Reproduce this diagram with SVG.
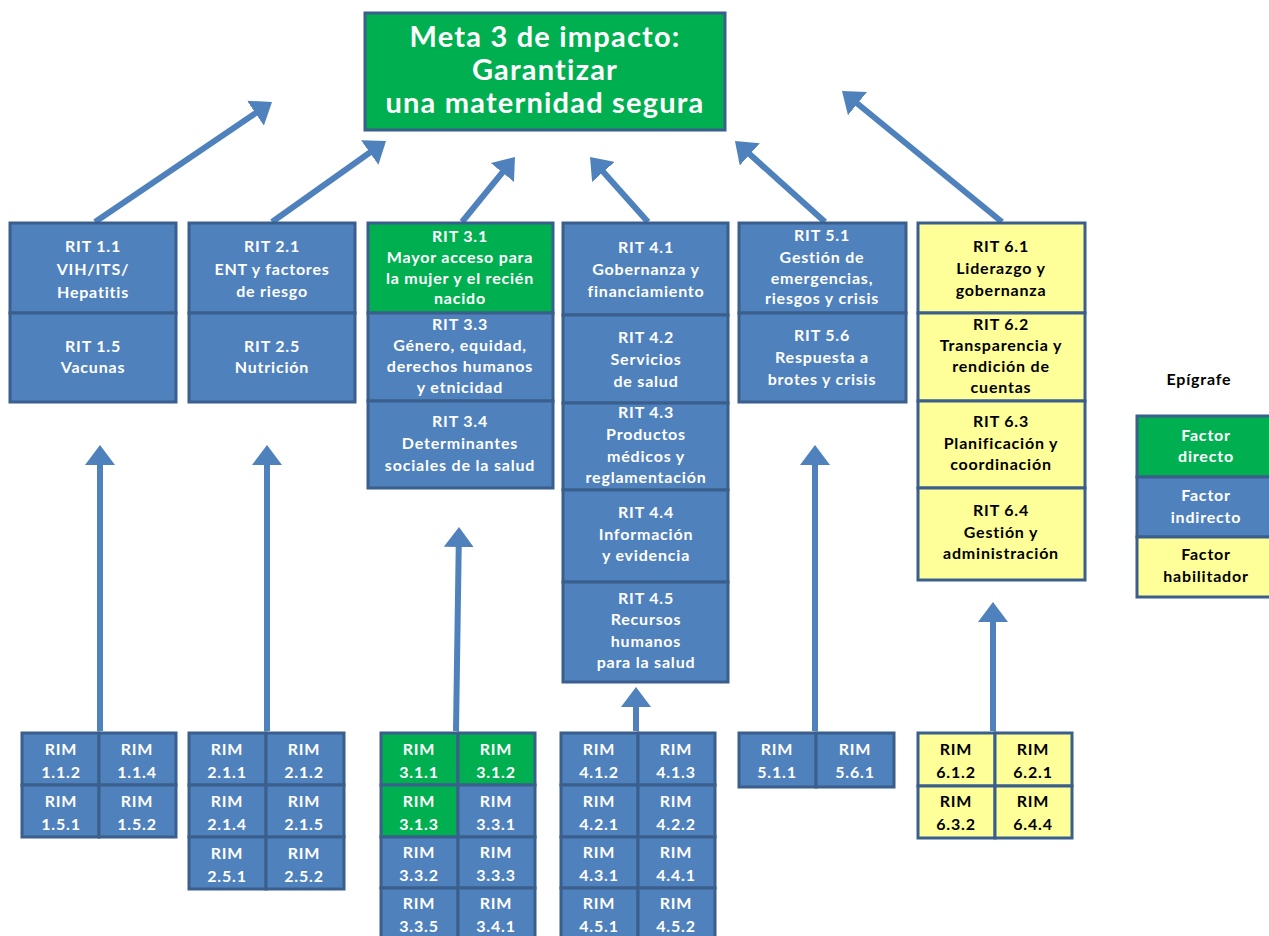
<svg xmlns="http://www.w3.org/2000/svg" width="1269" height="936" viewBox="0 0 1269 936">
<style>
rect{stroke:#3A5F8C;stroke-width:3}
.b{fill:#4F81BD}.g{fill:#00B050}.y{fill:#FFFF99}
text{font-family:Lato,"Liberation Sans",sans-serif;font-weight:bold;font-size:16px;letter-spacing:0.8px;text-anchor:middle;fill:#fff}
.k{fill:#000}
.t{font-size:29px;letter-spacing:1.2px}
.c{stroke:#4F81BD;stroke-width:6;fill:none}
</style>
<defs>
<marker id="ah" viewBox="0 0 20 30" markerWidth="20" markerHeight="30" markerUnits="userSpaceOnUse" refX="5" refY="15" orient="auto">
<path d="M0,0 L20,15 L0,30 z" fill="#4F81BD"/>
</marker>
</defs>
<g id="connectors">
<line class="c" x1="95" y1="222" x2="259.6" y2="110.4" marker-end="url(#ah)"/>
<line class="c" x1="272" y1="222" x2="373.8" y2="149.7" marker-end="url(#ah)"/>
<line class="c" x1="462" y1="222" x2="505.5" y2="168.6" marker-end="url(#ah)"/>
<line class="c" x1="648" y1="222" x2="600" y2="168.2" marker-end="url(#ah)"/>
<line class="c" x1="825" y1="222" x2="746.1" y2="151" marker-end="url(#ah)"/>
<line class="c" x1="1002" y1="222" x2="853.6" y2="100.5" marker-end="url(#ah)"/>
<line class="c" x1="100" y1="731" x2="100" y2="460" marker-end="url(#ah)"/>
<line class="c" x1="267" y1="731" x2="267" y2="460" marker-end="url(#ah)"/>
<line class="c" x1="456" y1="731" x2="458.8" y2="542" marker-end="url(#ah)"/>
<line class="c" x1="636" y1="731" x2="636" y2="702" marker-end="url(#ah)"/>
<line class="c" x1="815" y1="731" x2="815" y2="460" marker-end="url(#ah)"/>
<line class="c" x1="993" y1="731" x2="993" y2="617" marker-end="url(#ah)"/>
</g>
<g id="meta">
<rect class="g" x="365" y="13" width="360" height="117"/>
<text class="t" x="545" y="47">Meta 3 de impacto:</text>
<text class="t" x="545" y="80">Garantizar</text>
<text class="t" x="545" y="113">una maternidad segura</text>
</g>
<g id="rit1">
<rect class="b" x="10" y="223" width="166" height="90"/>
<rect class="b" x="10" y="313" width="166" height="89"/>
<text x="93" y="252">RIT 1.1</text><text x="93" y="275">VIH/ITS/</text><text x="93" y="298">Hepatitis</text>
<text x="93" y="352">RIT 1.5</text><text x="93" y="373">Vacunas</text>
</g>
<g id="rit2">
<rect class="b" x="189" y="223" width="166" height="90"/>
<rect class="b" x="189" y="313" width="166" height="89"/>
<text x="272" y="252">RIT 2.1</text><text x="272" y="275">ENT y factores</text><text x="272" y="297">de riesgo</text>
<text x="272" y="352">RIT 2.5</text><text x="272" y="373">Nutrición</text>
</g>
<g id="rit3">
<rect class="g" x="368" y="223" width="185" height="90"/>
<rect class="b" x="368" y="313" width="185" height="88"/>
<rect class="b" x="368" y="401" width="185" height="87"/>
<text x="460" y="242">RIT 3.1</text><text x="460" y="263">Mayor acceso para</text><text x="460" y="284">la mujer y el recién</text><text x="460" y="304">nacido</text>
<text x="460" y="330">RIT 3.3</text><text x="460" y="351">Género, equidad,</text><text x="460" y="372">derechos humanos</text><text x="460" y="393">y etnicidad</text>
<text x="460" y="427">RIT 3.4</text><text x="460" y="449">Determinantes</text><text x="460" y="471">sociales de la salud</text>
</g>
<g id="rit4">
<rect class="b" x="563" y="223" width="165" height="92"/>
<rect class="b" x="563" y="315" width="165" height="88"/>
<rect class="b" x="563" y="403" width="165" height="87"/>
<rect class="b" x="563" y="490" width="165" height="92"/>
<rect class="b" x="563" y="582" width="165" height="100"/>
<text x="646" y="253">RIT 4.1</text><text x="646" y="275">Gobernanza y</text><text x="646" y="297">financiamiento</text>
<text x="646" y="343">RIT 4.2</text><text x="646" y="365">Servicios</text><text x="646" y="387">de salud</text>
<text x="646" y="418">RIT 4.3</text><text x="646" y="440">Productos</text><text x="646" y="462">médicos y</text><text x="646" y="483">reglamentación</text>
<text x="646" y="518">RIT 4.4</text><text x="646" y="540">Información</text><text x="646" y="561">y evidencia</text>
<text x="646" y="604">RIT 4.5</text><text x="646" y="625">Recursos</text><text x="646" y="647">humanos</text><text x="646" y="668">para la salud</text>
</g>
<g id="rit5">
<rect class="b" x="739" y="223" width="167" height="90"/>
<rect class="b" x="739" y="313" width="167" height="89"/>
<text x="822" y="241">RIT 5.1</text><text x="822" y="263">Gestión de</text><text x="822" y="284">emergencias,</text><text x="822" y="304">riesgos y crisis</text>
<text x="822" y="341">RIT 5.6</text><text x="822" y="363">Respuesta a</text><text x="822" y="385">brotes y crisis</text>
</g>
<g id="rit6">
<rect class="y" x="918" y="223" width="167" height="90"/>
<rect class="y" x="918" y="313" width="167" height="88"/>
<rect class="y" x="918" y="401" width="167" height="87"/>
<rect class="y" x="918" y="488" width="167" height="92"/>
<text class="k" x="1001" y="252">RIT 6.1</text><text class="k" x="1001" y="274">Liderazgo y</text><text class="k" x="1001" y="296">gobernanza</text>
<text class="k" x="1001" y="330">RIT 6.2</text><text class="k" x="1001" y="351">Transparencia y</text><text class="k" x="1001" y="372">rendición de</text><text class="k" x="1001" y="393">cuentas</text>
<text class="k" x="1001" y="427">RIT 6.3</text><text class="k" x="1001" y="449">Planificación y</text><text class="k" x="1001" y="470">coordinación</text>
<text class="k" x="1001" y="516">RIT 6.4</text><text class="k" x="1001" y="538">Gestión y</text><text class="k" x="1001" y="559">administración</text>
</g>
<g id="legend">
<text class="k" x="1199" y="385">Epígrafe</text>
<rect class="g" x="1137" y="416" width="145" height="61"/>
<rect class="b" x="1137" y="477" width="145" height="60"/>
<rect class="y" x="1137" y="537" width="145" height="60"/>
<text x="1206" y="441">Factor</text><text x="1206" y="462">directo</text>
<text x="1206" y="501">Factor</text><text x="1206" y="523">indirecto</text>
<text class="k" x="1206" y="560">Factor</text><text class="k" x="1206" y="582">habilitador</text>
</g>
<g id="rim1">
<rect class="b" x="22" y="733" width="77" height="52"/><rect class="b" x="99" y="733" width="77" height="52"/>
<rect class="b" x="22" y="785" width="77" height="52"/><rect class="b" x="99" y="785" width="77" height="52"/>
<text x="61" y="755">RIM</text><text x="61" y="778">1.1.2</text><text x="137" y="755">RIM</text><text x="137" y="778">1.1.4</text>
<text x="61" y="807">RIM</text><text x="61" y="830">1.5.1</text><text x="137" y="807">RIM</text><text x="137" y="830">1.5.2</text>
</g>
<g id="rim2">
<rect class="b" x="189" y="733" width="77" height="52"/><rect class="b" x="266" y="733" width="78" height="52"/>
<rect class="b" x="189" y="785" width="77" height="52"/><rect class="b" x="266" y="785" width="78" height="52"/>
<rect class="b" x="189" y="837" width="77" height="52"/><rect class="b" x="266" y="837" width="78" height="52"/>
<text x="227" y="755">RIM</text><text x="227" y="778">2.1.1</text><text x="304" y="755">RIM</text><text x="304" y="778">2.1.2</text>
<text x="227" y="807">RIM</text><text x="227" y="830">2.1.4</text><text x="304" y="807">RIM</text><text x="304" y="830">2.1.5</text>
<text x="227" y="859">RIM</text><text x="227" y="882">2.5.1</text><text x="304" y="859">RIM</text><text x="304" y="882">2.5.2</text>
</g>
<g id="rim3">
<rect class="g" x="381" y="733" width="77" height="52"/><rect class="g" x="458" y="733" width="77" height="52"/>
<rect class="g" x="381" y="785" width="77" height="52"/><rect class="b" x="458" y="785" width="77" height="52"/>
<rect class="b" x="381" y="837" width="77" height="51"/><rect class="b" x="458" y="837" width="77" height="51"/>
<rect class="b" x="381" y="888" width="77" height="52"/><rect class="b" x="458" y="888" width="77" height="52"/>
<text x="419" y="755">RIM</text><text x="419" y="778">3.1.1</text><text x="496" y="755">RIM</text><text x="496" y="778">3.1.2</text>
<text x="419" y="807">RIM</text><text x="419" y="830">3.1.3</text><text x="496" y="807">RIM</text><text x="496" y="830">3.3.1</text>
<text x="419" y="858">RIM</text><text x="419" y="881">3.3.2</text><text x="496" y="858">RIM</text><text x="496" y="881">3.3.3</text>
<text x="419" y="909">RIM</text><text x="419" y="932">3.3.5</text><text x="496" y="909">RIM</text><text x="496" y="932">3.4.1</text>
</g>
<g id="rim4">
<rect class="b" x="561" y="733" width="77" height="52"/><rect class="b" x="638" y="733" width="77" height="52"/>
<rect class="b" x="561" y="785" width="77" height="52"/><rect class="b" x="638" y="785" width="77" height="52"/>
<rect class="b" x="561" y="837" width="77" height="51"/><rect class="b" x="638" y="837" width="77" height="51"/>
<rect class="b" x="561" y="888" width="77" height="52"/><rect class="b" x="638" y="888" width="77" height="52"/>
<text x="599" y="755">RIM</text><text x="599" y="778">4.1.2</text><text x="676" y="755">RIM</text><text x="676" y="778">4.1.3</text>
<text x="599" y="807">RIM</text><text x="599" y="830">4.2.1</text><text x="676" y="807">RIM</text><text x="676" y="830">4.2.2</text>
<text x="599" y="858">RIM</text><text x="599" y="881">4.3.1</text><text x="676" y="858">RIM</text><text x="676" y="881">4.4.1</text>
<text x="599" y="909">RIM</text><text x="599" y="932">4.5.1</text><text x="676" y="909">RIM</text><text x="676" y="932">4.5.2</text>
</g>
<g id="rim5">
<rect class="b" x="739" y="733" width="77" height="54"/><rect class="b" x="816" y="733" width="78" height="54"/>
<text x="777" y="755">RIM</text><text x="777" y="778">5.1.1</text><text x="855" y="755">RIM</text><text x="855" y="778">5.6.1</text>
</g>
<g id="rim6">
<rect class="y" x="918" y="733" width="77" height="53"/><rect class="y" x="995" y="733" width="77" height="53"/>
<rect class="y" x="918" y="786" width="77" height="52"/><rect class="y" x="995" y="786" width="77" height="52"/>
<text class="k" x="956" y="755">RIM</text><text class="k" x="956" y="778">6.1.2</text><text class="k" x="1033" y="755">RIM</text><text class="k" x="1033" y="778">6.2.1</text>
<text class="k" x="956" y="807">RIM</text><text class="k" x="956" y="830">6.3.2</text><text class="k" x="1033" y="807">RIM</text><text class="k" x="1033" y="830">6.4.4</text>
</g>
</svg>
